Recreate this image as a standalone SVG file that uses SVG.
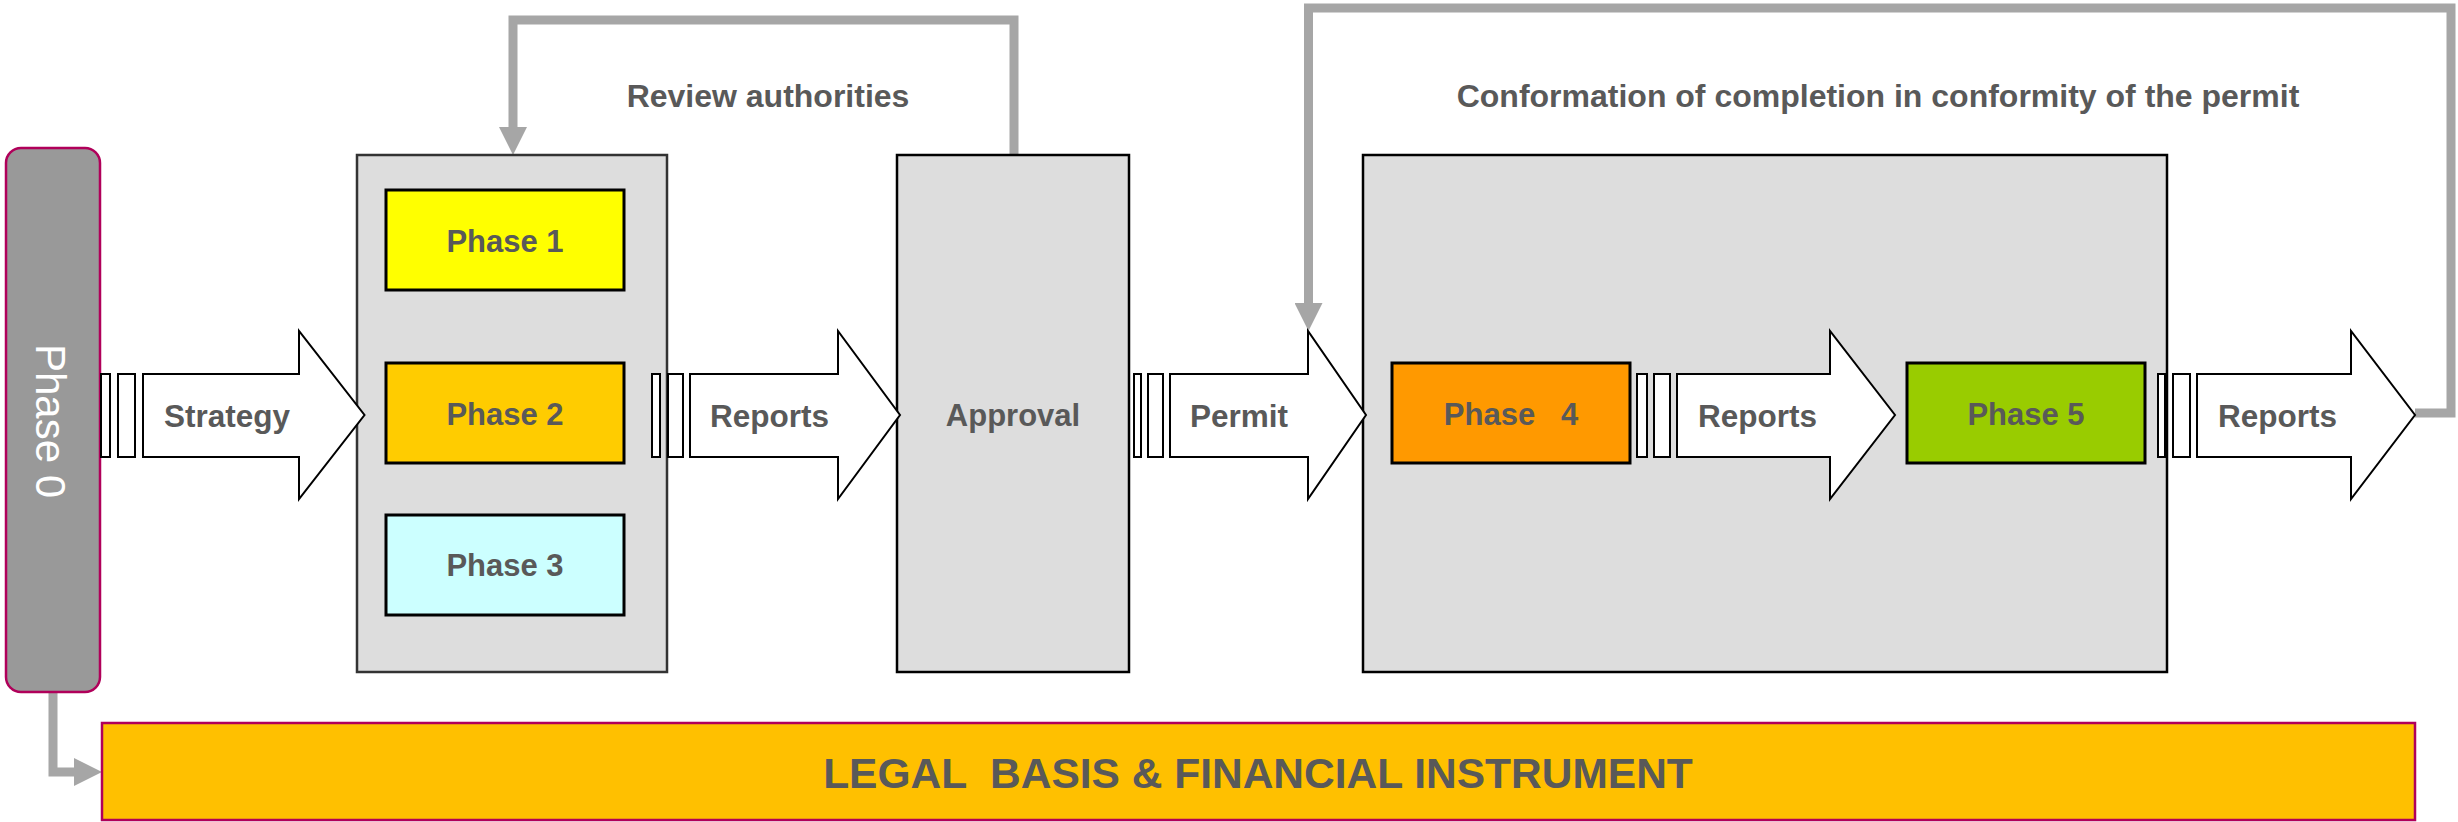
<svg xmlns="http://www.w3.org/2000/svg" width="2458" height="822" viewBox="0 0 2458 822">
<style>
text{font-family:"Liberation Sans",Arial,sans-serif;font-weight:bold;fill:#595959;font-size:31px}
.mid{text-anchor:middle}
.lbl{font-size:31.5px}
.top{font-size:32px}
.grp{fill:#DDDDDD;stroke:#000;stroke-width:2.5}
.ph{stroke:#000;stroke-width:3}
.arr{fill:#fff;stroke:#000;stroke-width:2}
.con{fill:none;stroke:#A6A6A6;stroke-width:9}
</style>
<defs>
<marker id="ah" markerUnits="userSpaceOnUse" markerWidth="28" markerHeight="28" viewBox="0 0 28 28" refX="0" refY="14" orient="auto">
<path d="M0,0 L28,14 L0,28 z" fill="#A6A6A6"/>
</marker>
</defs>

<g id="connectors">
<path class="con" d="M1014,155 V20 H513 V127" marker-end="url(#ah)"/>
<path class="con" d="M2415,413 H2451 V8 H1308.5 V303" marker-end="url(#ah)"/>
<path class="con" d="M53,692 V772 H74" marker-end="url(#ah)"/>
</g>

<g id="group1">
<rect x="357" y="155" width="310" height="517" fill="#DDDDDD" stroke="#333" stroke-width="2.5"/>
</g>
<g id="phase1">
<rect class="ph" x="386" y="190" width="238" height="100" fill="#FFFF00"/>
<text class="mid" x="505" y="252">Phase 1</text>
</g>
<g id="phase2">
<rect class="ph" x="386" y="363" width="238" height="100" fill="#FFCC00"/>
<text class="mid" x="505" y="425">Phase 2</text>
</g>
<g id="phase3">
<rect class="ph" x="386" y="515" width="238" height="100" fill="#CCFFFF"/>
<text class="mid" x="505" y="576">Phase 3</text>
</g>

<g id="approval">
<rect class="grp" x="897" y="155" width="232" height="517"/>
<text class="mid" x="1013" y="426">Approval</text>
</g>

<g id="group3">
<rect class="grp" x="1363" y="155" width="804" height="517"/>
</g>
<g id="phase4">
<rect class="ph" x="1392" y="363" width="238" height="100" fill="#FF9900"/>
<text class="mid" x="1511" y="425" xml:space="preserve">Phase   4</text>
</g>
<g id="phase5">
<rect class="ph" x="1907" y="363" width="238" height="100" fill="#99CC00"/>
<text class="mid" x="2026" y="425">Phase 5</text>
</g>

<g id="phase0">
<rect x="6" y="148" width="94" height="544" rx="15" ry="15" fill="#999999" stroke="#B0005A" stroke-width="2.5"/>
<text transform="translate(36,421) rotate(90)" class="mid" style="fill:#fff;font-weight:normal;font-size:42px">Phase 0</text>
</g>

<g id="strategy">
<rect class="arr" x="101" y="374" width="9" height="83"/>
<rect class="arr" x="118" y="374" width="17" height="83"/>
<polygon class="arr" points="143,374 299,374 299,331 364.5,415 299,499 299,457 143,457"/>
<text class="lbl" x="164" y="427">Strategy</text>
</g>

<g id="reports1">
<rect class="arr" x="652" y="374" width="8" height="83"/>
<rect class="arr" x="668" y="374" width="15" height="83"/>
<polygon class="arr" points="690,374 838,374 838,331 900,415 838,499 838,457 690,457"/>
<text class="lbl" x="710" y="427">Reports</text>
</g>

<g id="permit">
<rect class="arr" x="1134" y="374" width="7" height="83"/>
<rect class="arr" x="1148" y="374" width="15" height="83"/>
<polygon class="arr" points="1170,374 1308,374 1308,331 1366,415 1308,499 1308,457 1170,457"/>
<text class="lbl" x="1190" y="427">Permit</text>
</g>

<g id="reports2">
<rect class="arr" x="1637" y="374" width="10" height="83"/>
<rect class="arr" x="1654" y="374" width="16" height="83"/>
<polygon class="arr" points="1677,374 1830,374 1830,331 1895,415 1830,499 1830,457 1677,457"/>
<text class="lbl" x="1698" y="427">Reports</text>
</g>

<g id="reports3">
<rect class="arr" x="2158" y="374" width="7" height="83"/>
<rect class="arr" x="2173" y="374" width="17" height="83"/>
<polygon class="arr" points="2197,374 2351,374 2351,331 2415,415 2351,499 2351,457 2197,457"/>
<text class="lbl" x="2218" y="427">Reports</text>
</g>

<g id="labels">
<text class="mid top" x="768" y="107">Review authorities</text>
<text class="mid top" x="1878" y="107">Conformation of completion in conformity of the permit</text>
</g>

<g id="legal">
<rect x="102" y="723" width="2313" height="97" fill="#FFC000" stroke="#B0005A" stroke-width="2.5"/>
<text class="mid" x="1258" y="788" style="font-size:42.5px" xml:space="preserve">LEGAL  BASIS &amp; FINANCIAL INSTRUMENT</text>
</g>
</svg>
